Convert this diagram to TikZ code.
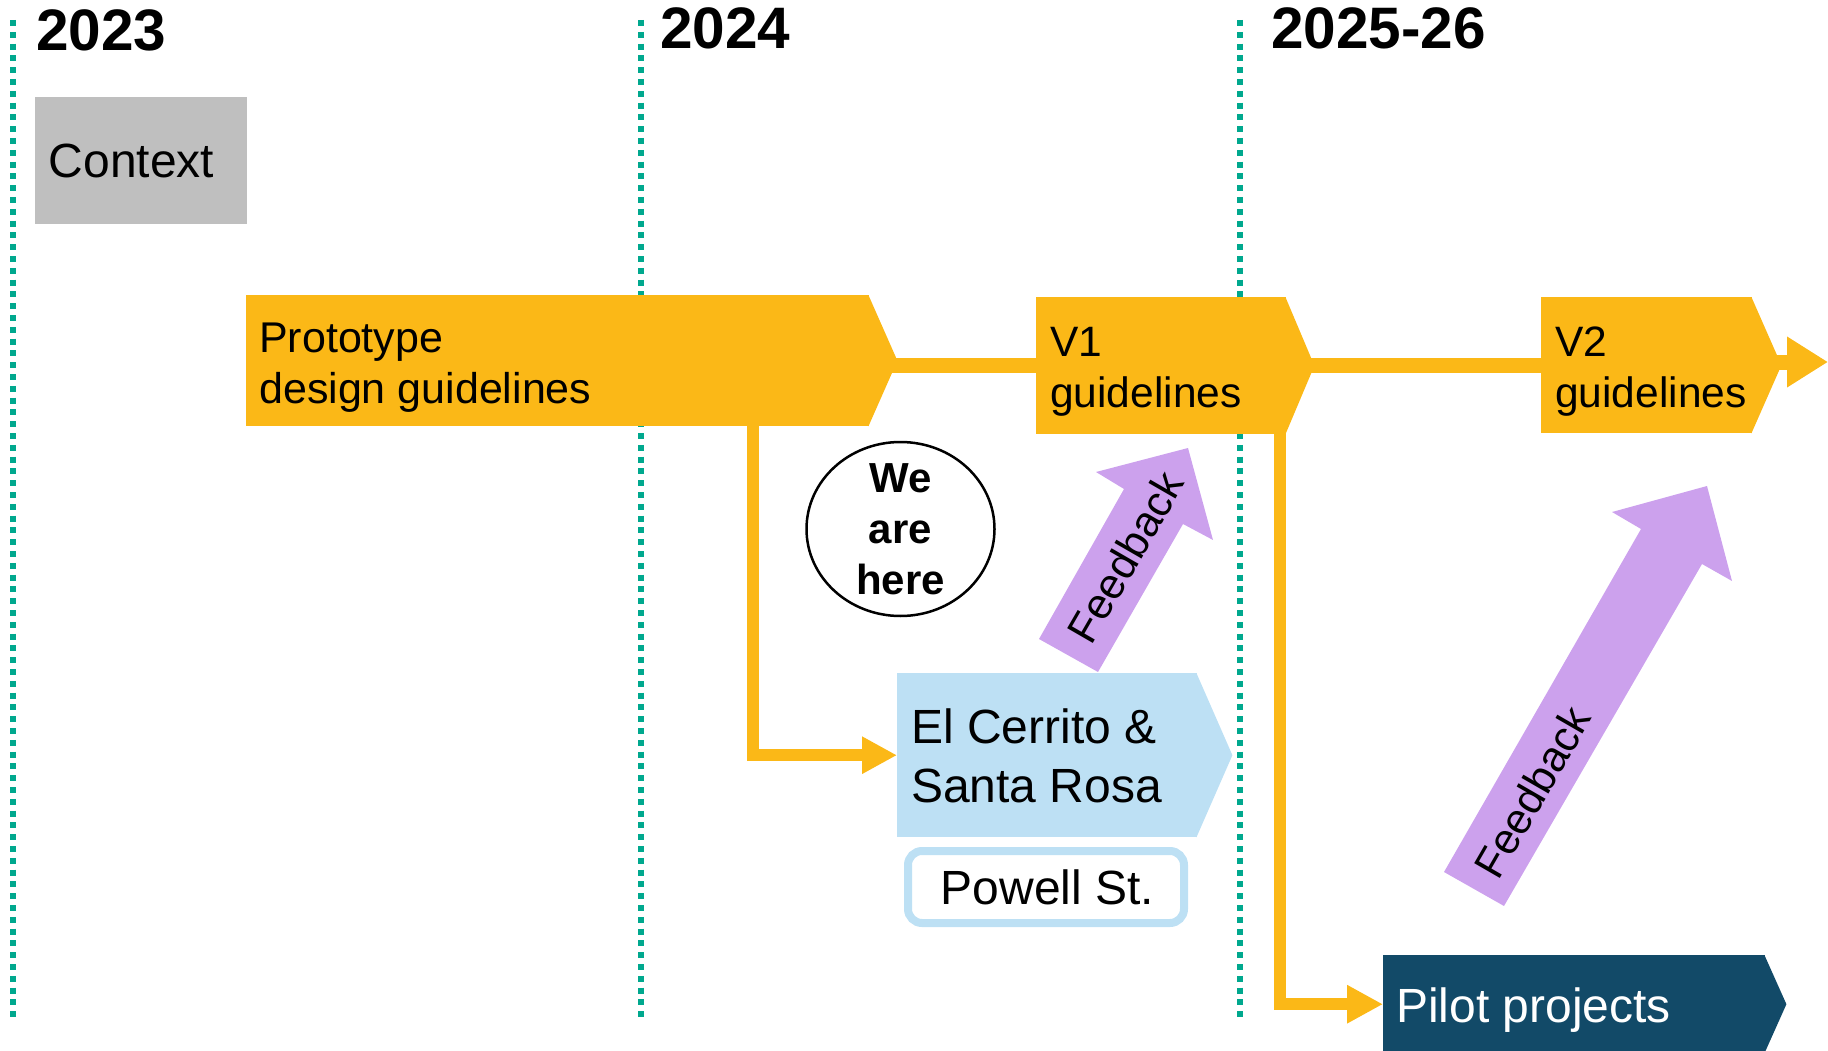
\documentclass[tikz,border=0pt]{standalone}
\usepackage{fontspec}
\setmainfont{Liberation Sans}
\usetikzlibrary{arrows.meta,shapes.geometric}
\definecolor{gold}{RGB}{251,184,23}
\definecolor{lav}{RGB}{204,161,237}
\definecolor{sky}{RGB}{189,224,244}
\definecolor{greybox}{RGB}{191,191,191}
\definecolor{dotteal}{RGB}{0,168,142}
\definecolor{navyb}{RGB}{18,74,104}
\begin{document}
\begin{tikzpicture}[x=1pt,y=-1pt,
  yearlbl/.style={font=\fontsize{58.5}{62}\selectfont\bfseries, anchor=base west, inner sep=0pt},
  guide/.style={dotteal, line width=6pt, dash pattern=on 6pt off 5.8pt},
  boxnode/.style={inner sep=0pt, anchor=north west},
  txt/.style={anchor=base west, inner sep=0pt, align=left},
  conn/.style={gold, line width=12pt},
  fbtxt/.style={rotate=60, font=\fontsize{43}{50}\selectfont, inner sep=0pt}
]
\useasboundingbox (0,0) rectangle (1828,1051);
% guide lines
\draw[guide] (13,20) -- (13,1018);
\draw[guide] (641,20) -- (641,1018);
\draw[guide] (1240,20) -- (1240,1018);
% years
\node[yearlbl] (y23) at (36,51) {2023};
\node[yearlbl] (y24) at (660,49) {2024};
\node[yearlbl] (y25) at (1271,49) {2025-26};
% context
\node[boxnode, fill=greybox, minimum width=212pt, minimum height=127pt] (ctx) at (35,97) {};
\node[txt, font=\fontsize{48}{56}\selectfont] (ctxT) at (48.5,177.5) {Context};
% chevrons
\node[boxnode, fill=gold, minimum width=623pt, minimum height=131pt] (proto) at (246,295) {};
\fill[gold] ([xshift=-1pt]proto.north east) -- ([xshift=28pt]proto.east) -- ([xshift=-1pt]proto.south east) -- cycle;
\node[boxnode, fill=gold, minimum width=250pt, minimum height=137pt] (V1) at (1036,297) {};
\fill[gold] ([xshift=-1pt]V1.north east) -- ([xshift=28pt]V1.east) -- ([xshift=-1pt]V1.south east) -- cycle;
\node[boxnode, fill=gold, minimum width=211pt, minimum height=136pt] (V2) at (1541,297) {};
\fill[gold] ([xshift=-1pt]V2.north east) -- ([xshift=29pt]V2.east) -- ([xshift=-1pt]V2.south east) -- cycle;
\node[boxnode, fill=sky, minimum width=300pt, minimum height=164pt] (elc) at (897,673) {};
\fill[sky] ([xshift=-1pt]elc.north east) -- ([xshift=35pt]elc.east) -- ([xshift=-1pt]elc.south east) -- cycle;
\node[boxnode, fill=navyb, minimum width=382pt, minimum height=98pt] (pilot) at (1383,955) {};
\fill[navyb] ([xshift=-1pt]pilot.north east) -- ([xshift=21pt]pilot.east) -- ([xshift=-1pt]pilot.south east) -- cycle;
% connectors
\coordinate (out) at (1828,362);
\draw[gold, line width=15pt] (proto.east |- V1.west) -- (V1.west);
\draw[gold, line width=15pt] (V1.east |- V2.west) -- (V2.west);
\draw[gold, line width=15pt, -{Triangle[length=41pt,width=48pt]}] (V2.east |- out) -- (out);
\draw[conn, -{Triangle[length=35pt,width=35pt]}] ([xshift=507pt]proto.south west) |- (elc.west);
\draw[conn, -{Triangle[length=36pt,width=36pt]}] ([xshift=244pt]V1.south west) |- (pilot.west);
% texts (base anchor = last line baseline)
\node[txt, font=\fontsize{43}{51}\selectfont] (protoT) at (259,403) {Prototype\\design guidelines};
\node[txt, font=\fontsize{42.5}{51}\selectfont] (V1T) at (1050,407) {V1\\guidelines};
\node[txt, font=\fontsize{42.5}{51}\selectfont] (V2T) at (1555,407) {V2\\guidelines};
\node[txt, font=\fontsize{48}{59}\selectfont] (elcT) at (911,802) {El Cerrito \&\\Santa Rosa};
\node[txt, font=\fontsize{48}{56}\selectfont, text=white] (pilotT) at (1396,1022) {Pilot projects};
% we are here
\node[draw, line width=2.5pt, ellipse, minimum width=188pt, minimum height=174pt, inner sep=0pt] (here) at (900.5,529) {};
\node[align=center, inner sep=0pt, font=\fontsize{42}{51}\selectfont\bfseries] (hereT) at (here.center) {We\\are\\here};
% powell
\node[draw=sky, line width=8pt, fill=white, rounded corners=14pt, minimum width=276pt, minimum height=72pt, inner sep=0pt, font=\fontsize{48}{50}\selectfont] (powell) at (1046,887) {\hspace*{3pt}Powell St.};
% feedback arrows
\fill[lav] (1039,639) -- (1124,489) -- (1096,472) -- (1188,448) -- (1213,540) -- (1183,524) -- (1098,672) -- cycle;
\node[fbtxt] (fb1) at (1125,557) {Feedback};
\fill[lav] (1444,872) -- (1641,529) -- (1612,512) -- (1707,486) -- (1732,581) -- (1702,564) -- (1504,906) -- cycle;
\node[fbtxt] (fb2) at (1532,792) {Feedback};
\end{tikzpicture}
\end{document}
